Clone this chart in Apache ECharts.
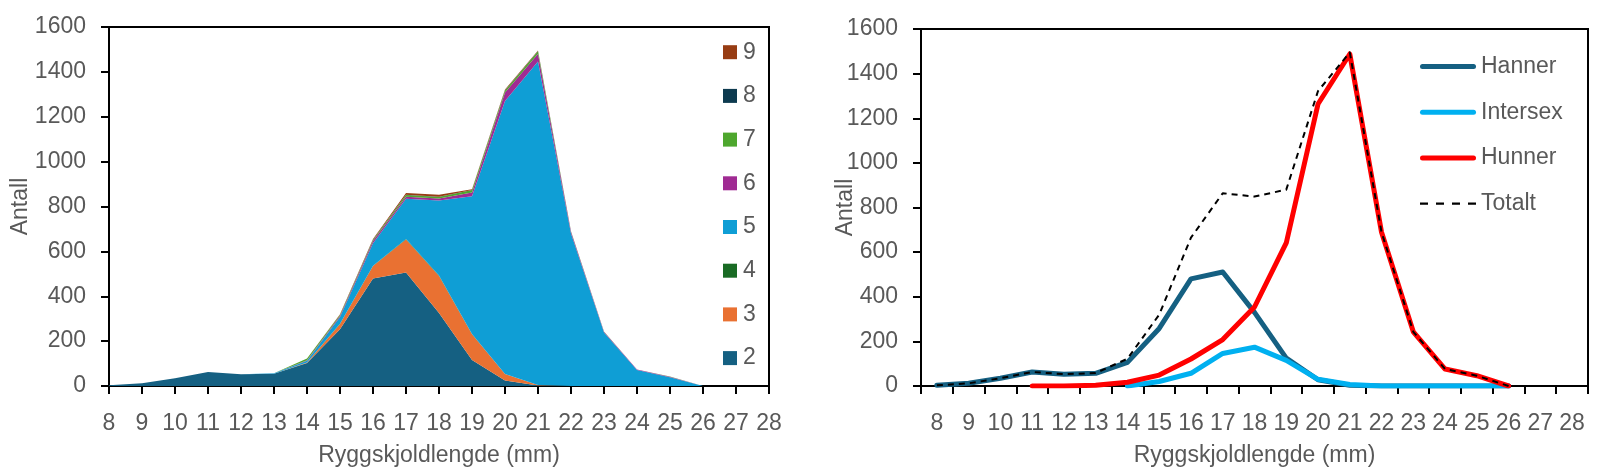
<!DOCTYPE html>
<html>
<head>
<meta charset="utf-8">
<script src="https://cdn.jsdelivr.net/npm/echarts@6/dist/echarts.min.js"></script>
<style>
html,body{margin:0;padding:0;background:#fff;}
#chart{width:1602px;height:472px;}
</style>
</head>
<body>
<div id="chart"></div>
<script>
// ---- Data ----
const categories = ['8','9','10','11','12','13','14','15','16','17','18','19','20','21','22','23','24','25','26','27','28'];
const yTicks = [0,200,400,600,800,1000,1200,1400,1600];

// Left chart: stacked areas per stage (values for 8..26 mm)
const stage2 = [3, 12, 35, 62, 52, 55, 103, 253, 479, 506, 325, 116, 24, 2, 0, 0, 0, 0, 0];
const stage3 = [0, 0, 0, 0, 0, 0, 2, 23, 56, 147, 165, 115, 29, 2, 0, 0, 0, 0, 0];
const stage4 = [0, 0, 0, 0, 0, 0, 0, 1, 1, 2, 2, 1, 1, 1, 0, 0, 0, 0, 0];
const stage5 = [0, 0, 0, 0, 0, 2, 7, 30, 100, 180, 335, 614, 1216, 1441, 680, 238, 71, 39, 0];
const stage6 = [0, 0, 0, 0, 0, 0, 3, 6, 10, 9, 9, 16, 38, 35, 8, 4, 2, 2, 0];
const stage7 = [0, 0, 0, 0, 0, 0, 8, 5, 5, 7, 6, 12, 9, 11, 2, 1, 1, 1, 0];
const stage8 = [0, 0, 0, 0, 0, 0, 0, 0, 1, 1, 1, 0, 1, 1, 0, 0, 0, 0, 0];
const stage9 = [0, 0, 0, 0, 0, 0, 0, 2, 3, 8, 9, 3, 4, 2, 0, 0, 0, 0, 0];

// Right chart: lines by sex (values for 8..26 mm)
const hanner   = [3, 12, 35, 63, 53, 57, 106, 258, 480, 511, 330, 125, 28, 3, 0, 0, 0, 0, 0];
const intersex = [null, null, null, null, null, null, 0, 20, 57, 146, 174, 115, 30, 7, 0, 0, 0, 0, 0];
const hunner   = [null, null, null, 0, 0.5, 3, 17, 49, 121, 208, 354, 641, 1264, 1488, 689, 243, 76, 46, 0];
const totalt   = [3, 12, 35, 63, 53, 58, 122, 320, 665, 864, 849, 880, 1322, 1495, 689, 243, 76, 46, 0];

// ---- Style ----
const FONT = 'Liberation Sans';
const FS = 23;
const TXT = '#595959';
const stageColors = {
  '2':'#156082','3':'#E97132','4':'#196B24','5':'#0F9ED5',
  '6':'#A02B93','7':'#4EA72E','8':'#0D3A4F','9':'#973C13'
};
const stages = [['2',stage2],['3',stage3],['4',stage4],['5',stage5],['6',stage6],['7',stage7],['8',stage8],['9',stage9]];

function xAxis(gridIndex, boundaryGap){
  return {
    type:'category', gridIndex, data:categories, boundaryGap,
    name:'Ryggskjoldlengde (mm)', nameLocation:'middle', nameGap:58, nameMoveOverlap:false,
    nameTextStyle:{color:TXT, fontFamily:FONT, fontSize:FS},
    axisLine:{show:true, lineStyle:{color:'#000', width:2}},
    axisTick:{show:true, length:8, lineStyle:{color:'#000', width:2}, alignWithLabel:false},
    axisLabel:{color:TXT, fontFamily:FONT, fontSize:FS, margin:26, interval:0},
    splitLine:{show:false}
  };
}
function yAxis(gridIndex, gap){
  return {
    type:'value', gridIndex, min:yTicks[0], max:yTicks[yTicks.length-1], interval:200,
    name:'Antall', nameLocation:'middle', nameGap:gap, nameRotate:90, nameMoveOverlap:false,
    nameTextStyle:{color:TXT, fontFamily:FONT, fontSize:FS},
    axisLine:{show:true, lineStyle:{color:'#000', width:2}},
    axisTick:{show:true, length:8, lineStyle:{color:'#000', width:2}},
    axisLabel:{color:TXT, fontFamily:FONT, fontSize:FS, margin:23, formatter: v => String(v)},
    splitLine:{show:false}
  };
}

const series = [];
stages.forEach(([name, arr]) => {
  series.push({
    name, type:'line', xAxisIndex:0, yAxisIndex:0, stack:'stage', data:arr,
    symbol:'none', smooth:false,
    lineStyle:{width:0, color:stageColors[name]},
    itemStyle:{color:stageColors[name]},
    areaStyle:{color:stageColors[name], opacity:1},
    emphasis:{disabled:true}
  });
});
const lineDefs = [
  ['Hanner', hanner, '#156082', 'solid', 5],
  ['Intersex', intersex, '#00B0F0', 'solid', 5],
  ['Hunner', hunner, '#FF0000', 'solid', 5],
  ['Totalt', totalt, '#000000', [6,5], 2]
];
lineDefs.forEach(([name, arr, color, type, width]) => {
  series.push({
    name, type:'line', xAxisIndex:1, yAxisIndex:1, data:arr,
    symbol:'none', smooth:false,
    lineStyle:{color, type, width, cap: type==='solid'?'round':'butt', join:'round'},
    itemStyle:{color},
    emphasis:{disabled:true}
  });
});

const solidIcon = 'path://M2.5,0h51a2.5,2.5 0 0 1 0,5h-51a2.5,2.5 0 0 1 0,-5z';
const dashIcon = 'path://M0,0h7v2h-7zM14,0h7v2h-7zM28,0h7v2h-7zM42,0h7v2h-7z';

const option = {
  animation:false,
  backgroundColor:'#fff',
  grid:[
    {left:109, top:27, width:660, height:360, show:true, borderColor:'#000', borderWidth:2, containLabel:false},
    {left:921, top:29, width:667, height:357, show:true, borderColor:'#000', borderWidth:2, containLabel:false}
  ],
  xAxis:[xAxis(0,false), xAxis(1,true)],
  yAxis:[yAxis(0,77), yAxis(1,64)],
  legend:[
    {
      data:['9','8','7','6','5','4','3','2'], orient:'vertical', left:723, top:40.7, padding:0,
      icon:'rect', itemWidth:14, itemHeight:14, itemGap:20.7,
      textStyle:{color:TXT, fontFamily:FONT, fontSize:FS, lineHeight:22, padding:[0,0,0,1]},
      selectedMode:false
    },
    {
      data:[
        {name:'Hanner', icon:solidIcon},
        {name:'Intersex', icon:solidIcon},
        {name:'Hunner', icon:solidIcon},
        {name:'Totalt', icon:dashIcon}
      ],
      orient:'vertical', left:1420, top:55, padding:0,
      itemWidth:56, itemHeight:14, itemGap:22.7,
      textStyle:{color:TXT, fontFamily:FONT, fontSize:FS, lineHeight:22},
      selectedMode:false
    }
  ],
  series
};

const chart = echarts.init(document.getElementById('chart'), null, {renderer:'canvas'});
chart.setOption(option);
</script>
</body>
</html>
